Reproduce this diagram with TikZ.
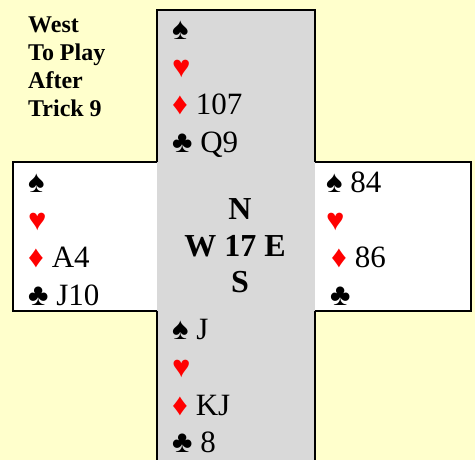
\documentclass[tikz,border=0pt]{standalone}
\usepackage{fontspec}
\setmainfont{Liberation Serif}

\definecolor{paper}{HTML}{FFFFCC}
\definecolor{felt}{HTML}{D9D9D9}
\definecolor{suitred}{HTML}{FF0000}

\newcommand{\sS}{♠}
\newcommand{\sH}{{\color{suitred}♥}}
\newcommand{\sD}{{\color{suitred}♦}}
\newcommand{\sC}{♣}

% name, x, y of first baseline, then the four suits
\newcommand{\bridgehand}[7]{%
  \node[card] (#1-s) at (#2,#3)       {\sS\ #4};
  \node[card] (#1-h) at (#2,#3+37.5)  {\sH\ #5};
  \node[card] (#1-d) at (#2,#3+75)    {#6};
  \node[card] (#1-c) at (#2,#3+112.5) {#7};
}

\begin{document}
\begin{tikzpicture}[
    x=1pt, y=-1pt,
    card/.style={anchor=base west, inner sep=0pt, font=\fontsize{31}{37}\selectfont},
    compass/.style={anchor=base, inner sep=0pt, font=\fontsize{32}{36}\selectfont\bfseries},
    note/.style={anchor=base west, inner sep=0pt, font=\fontsize{24}{27}\selectfont\bfseries},
    frame/.style={line width=2.2pt}
]
\useasboundingbox (0,0) rectangle (475,460);
\fill[paper] (0,0) rectangle (475,460);

% table strip and side cells
\fill[felt] (157,10) rectangle (315,460);
\fill[white] (13,162) rectangle (157,311);
\fill[white] (315,162) rectangle (471,311);
\draw[frame] (157,162) -- (157,10) -- (315,10) -- (315,162);
\draw[frame] (157,162) -- (13,162) -- (13,311) -- (157,311);
\draw[frame] (315,162) -- (471,162) -- (471,311) -- (315,311);
\draw[frame] (157,311) -- (157,461);
\draw[frame] (315,311) -- (315,461);

% caption
\foreach \t [count=\i] in {West, To Play, After, Trick 9}
    \node[note] (note-\i) at (28,33+27.7*\i-27.7) {\t};

% hands
\bridgehand{north}{172}{40}{}{}{\sD\ 107}{\sC\ Q9}
\bridgehand{west}{28}{193}{}{}{\sD\ A4}{\sC\ J10}
\bridgehand{east}{326}{193}{84}{}{\hspace{5pt}\sD\ 86}{\hspace{4pt}\sC}
\bridgehand{south}{172}{340}{J}{}{\sD\ KJ}{\sC\ 8}

% centre
\node[compass] (north-mark) at (240,220) {N};
\node[compass] (table-no) at (235,257) {W 17 E};
\node[compass] (south-mark) at (240,292) {S};
\end{tikzpicture}
\end{document}
